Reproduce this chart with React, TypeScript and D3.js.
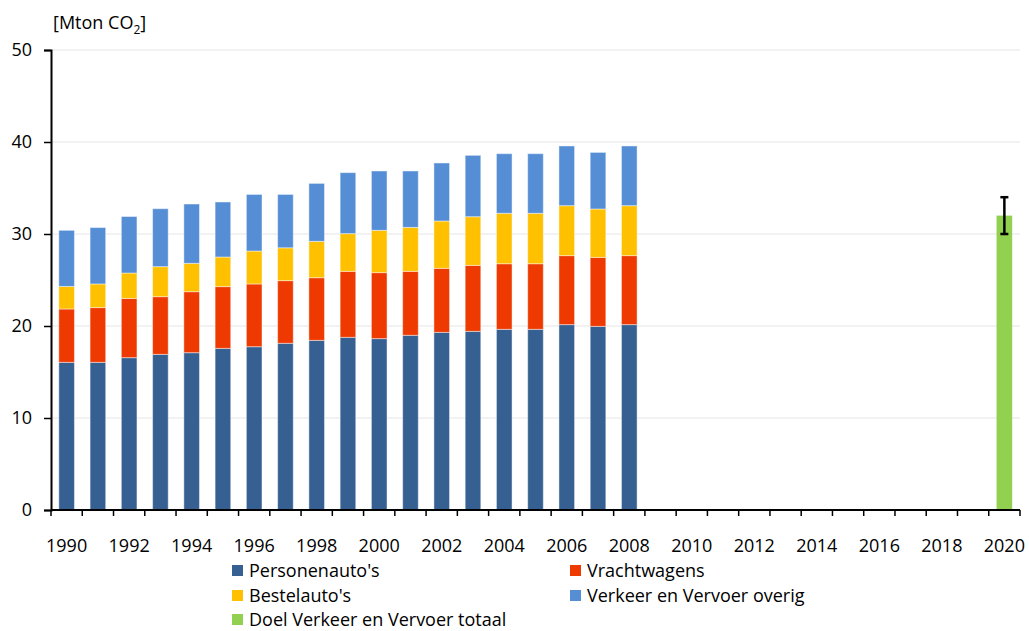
import React, { useEffect, useRef } from 'react';
import * as d3 from 'd3';

// jaren met gemeten emissies
const years = [
  '1990', '1991', '1992', '1993', '1994', '1995', '1996', '1997', '1998', '1999',
  '2000', '2001', '2002', '2003', '2004', '2005', '2006', '2007', '2008',
];
// alle categorieen op de x-as (t/m 2020)
const allYears = d3.range(1990, 2021).map(String);

const personenautos = [16.05, 16.05, 16.56, 16.92, 17.1, 17.57, 17.75, 18.12, 18.44, 18.77, 18.63, 18.99, 19.31, 19.42, 19.64, 19.64, 20.15, 19.96, 20.15];
const vrachtwagens = [5.8, 5.95, 6.44, 6.27, 6.63, 6.71, 6.82, 6.81, 6.81, 7.17, 7.17, 6.95, 6.96, 7.17, 7.13, 7.13, 7.5, 7.5, 7.5];
const bestelautos = [2.45, 2.57, 2.76, 3.26, 3.08, 3.22, 3.58, 3.57, 3.95, 4.1, 4.6, 4.78, 5.14, 5.29, 5.48, 5.48, 5.43, 5.26, 5.43];
const overig = [6.1, 6.13, 6.14, 6.3, 6.45, 5.98, 6.15, 5.8, 6.3, 6.63, 6.45, 6.13, 6.31, 6.67, 6.48, 6.48, 6.49, 6.15, 6.49];

const doelJaar = '2020';
const doelWaarde = 32;
const doelMin = 30;
const doelMax = 34;

const seriesNames = ["Personenauto's", 'Vrachtwagens', "Bestelauto's", 'Verkeer en Vervoer overig'];
const seriesColors = ['#376092', '#EE3900', '#FFC000', '#558ED5'];
const doelNaam = 'Doel Verkeer en Vervoer totaal';
const doelKleur = '#92D050';

const yTicks = [0, 10, 20, 30, 40, 50];

const FONT = '"Open Sans", Lato, sans-serif';

export default function App() {
  const ref = useRef<SVGSVGElement>(null);

  useEffect(() => {
    const svg = d3.select(ref.current);
    svg.selectAll('*').remove();

    const left = 51, right = 1020, top = 50, bottom = 510;

    const x = d3.scaleBand().domain(allYears).range([left, right]).paddingInner(0.5).paddingOuter(0.25);
    const y = d3.scaleLinear().domain([0, 50]).range([bottom, top]);

    // gridlijnen
    svg.append('g')
      .selectAll('line')
      .data(yTicks.filter(d => d > 0))
      .join('line')
      .attr('x1', left).attr('x2', right)
      .attr('y1', d => y(d)).attr('y2', d => y(d))
      .attr('stroke', '#e6e6e6').attr('stroke-width', 1.2);

    // gestapelde staven
    const rows = years.map((yr, i) => ({
      year: yr,
      s0: personenautos[i],
      s1: vrachtwagens[i],
      s2: bestelautos[i],
      s3: overig[i],
    }));
    const stack = d3.stack<any>().keys(['s0', 's1', 's2', 's3']);
    const stacked = stack(rows);

    svg.append('g')
      .selectAll('g')
      .data(stacked)
      .join('g')
      .attr('fill', (d, i) => seriesColors[i])
      .selectAll('rect')
      .data(d => d)
      .join('rect')
      .attr('x', d => x(d.data.year)!)
      .attr('width', x.bandwidth())
      .attr('y', d => y(d[1]))
      .attr('height', d => y(d[0]) - y(d[1]))
      .attr('stroke', 'rgba(255,255,255,0.45)')
      .attr('stroke-width', 1);

    // doel 2020
    svg.append('rect')
      .attr('x', x(doelJaar)!)
      .attr('width', x.bandwidth())
      .attr('y', y(doelWaarde))
      .attr('height', y(0) - y(doelWaarde))
      .attr('fill', doelKleur);

    const cx = x(doelJaar)! + x.bandwidth() / 2;
    const eb = svg.append('g').attr('stroke', '#000').attr('stroke-width', 2.5);
    eb.append('line').attr('x1', cx).attr('x2', cx).attr('y1', y(doelMin)).attr('y2', y(doelMax));
    eb.append('line').attr('x1', cx - 4).attr('x2', cx + 4).attr('y1', y(doelMin)).attr('y2', y(doelMin));
    eb.append('line').attr('x1', cx - 4).attr('x2', cx + 4).attr('y1', y(doelMax)).attr('y2', y(doelMax));

    // y-as
    const yAxis = svg.append('g')
      .attr('transform', `translate(${left},0)`)
      .call(d3.axisLeft(y).tickValues(yTicks).tickSize(7).tickPadding(12));
    yAxis.select('.domain').attr('stroke', '#000').attr('stroke-width', 2);
    yAxis.selectAll('.tick line').attr('stroke', '#000').attr('stroke-width', 1.5);
    yAxis.selectAll('.tick text')
      .attr('font-family', FONT).attr('font-size', 18).attr('fill', '#000');

    // x-as met streepjes op de bandgrenzen
    svg.append('line')
      .attr('x1', left).attr('x2', right)
      .attr('y1', bottom).attr('y2', bottom)
      .attr('stroke', '#000').attr('stroke-width', 2);
    const step = x.step();
    svg.append('g')
      .selectAll('line')
      .data(d3.range(allYears.length + 1))
      .join('line')
      .attr('x1', i => left + i * step).attr('x2', i => left + i * step)
      .attr('y1', bottom).attr('y2', bottom + 6)
      .attr('stroke', '#000').attr('stroke-width', 1.5);
    svg.append('g')
      .selectAll('text')
      .data(allYears.filter((d, i) => i % 2 === 0))
      .join('text')
      .attr('x', d => x(d)! + x.bandwidth() / 2)
      .attr('y', 552)
      .attr('text-anchor', 'middle')
      .attr('font-family', FONT).attr('font-size', 18)
      .text(d => d);

    // eenheid
    const t = svg.append('text')
      .attr('x', 53).attr('y', 29)
      .attr('font-family', FONT).attr('font-size', 18);
    t.append('tspan').text('[Mton CO');
    t.append('tspan').attr('font-size', 12).attr('dy', 5).text('2');
    t.append('tspan').attr('dy', -5).text(']');

    // legenda
    const legend = [
      { name: seriesNames[0], color: seriesColors[0], x: 232, y: 577 },
      { name: seriesNames[1], color: seriesColors[1], x: 570, y: 577 },
      { name: seriesNames[2], color: seriesColors[2], x: 232, y: 602 },
      { name: seriesNames[3], color: seriesColors[3], x: 570, y: 602 },
      { name: doelNaam, color: doelKleur, x: 232, y: 626 },
    ];
    const lg = svg.append('g').selectAll('g').data(legend).join('g')
      .attr('transform', d => `translate(${d.x},${d.y})`);
    lg.append('rect').attr('x', 0).attr('y', -12).attr('width', 11).attr('height', 11)
      .attr('fill', d => d.color);
    lg.append('text').attr('x', 17).attr('y', 0)
      .attr('font-family', FONT).attr('font-size', 18)
      .text(d => d.name);
  }, []);

  return (
    <div style={{ position: 'absolute', left: 0, top: 0 }}>
      <svg ref={ref} width={1029} height={631} style={{ display: 'block', background: '#fff' }} />
    </div>
  );
}
